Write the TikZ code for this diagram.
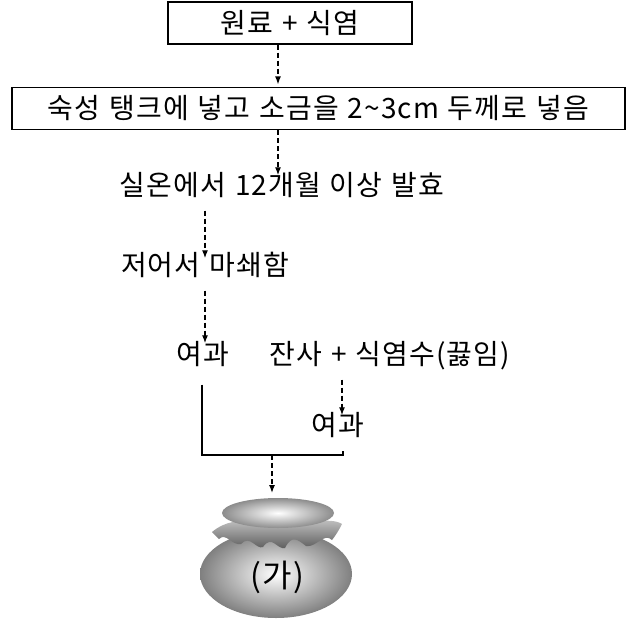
\documentclass[tikz,border=0pt]{standalone}
\usepackage{fontspec}
\setmainfont{Noto Sans CJK KR}[LetterSpace=4, WordSpace=1.2]
\usetikzlibrary{arrows.meta}
\begin{document}
\begin{tikzpicture}[x=1pt,y=-1pt,
  every node/.style={font=\fontsize{28}{32}\selectfont, inner sep=0pt},
  stepbox/.style={draw, line width=1.2pt, minimum height=42pt},
  steptext/.style={text height=20pt, text depth=5pt},
  flow/.style={dashed, dash pattern=on 5pt off 3pt, line width=1.3pt,
    -{Latex[length=8pt,width=6pt]}},
  mergeline/.style={line width=1.1pt}]
\useasboundingbox (0,0) rectangle (631,618);

% process steps
\node[stepbox, minimum width=244pt] (raw) at (290,23) {원료 + 식염};
\node[stepbox, minimum width=613pt] (tank) at (318.5,108.5) {숙성 탱크에 넣고 소금을 2\textasciitilde 3cm 두께로 넣음};
\node[steptext] (ferm) at (282,188) {실온에서 12개월 이상 발효};
\node[steptext] (grind) at (205,268) {저어서 마쇄함};
\node[steptext] (filt1) at (203,357) {여과};
\node[steptext] (resid) at (390,357) {잔사 + 식염수(끓임)};
\node[steptext] (filt2) at (338,428) {여과};

% pot: body, cloth cover, lid
\coordinate (pot) at (276,574);
\shade[inner color=white, outer color=black!50] (pot) ellipse [x radius=76, y radius=44];
\shade[top color=black!25, bottom color=black!65]
  (212,532) .. controls (225,521) and (240,520) .. (250,522)
  -- (310,522) .. controls (325,520) and (336,520) .. (342,524)
  .. controls (339,530) and (336,535) .. (332,540)
  .. controls (324,532) and (316,548) .. (306,546)
  .. controls (298,540) and (292,534) .. (285,548)
  .. controls (277,550) and (272,534) .. (263,547)
  .. controls (256,550) and (250,534) .. (241,544)
  .. controls (232,546) and (226,532) .. (219,539)
  -- cycle;
\shade[inner color=white, outer color=black!45] (278,513) ellipse [x radius=56, y radius=15];
\node[font=\fontsize{32}{36}\selectfont] (jar) at (277,577) {(가)};

% connectors
\coordinate (c1) at (278,0);
\coordinate (c2) at (205,0);
\coordinate (c3) at (342,0);
\coordinate (c5) at (202,0);
\coordinate (merge) at (272,455);
\coordinate (lidtop) at (272,493);
\draw[flow] (raw.south -| c1) -- ([yshift=2.5pt]tank.north -| c1);
\draw[flow] (tank.south -| c1) -- (ferm.north -| c1);
\draw[flow] ([yshift=-10pt]ferm.south -| c2) -- ([yshift=-3pt]grind.north -| c2);
\draw[flow] ([yshift=-10pt]grind.south -| c2) -- ([yshift=1pt]filt1.north -| c2);
\draw[flow] ([yshift=-10pt]resid.south -| c3) -- (filt2.north -| c3);
\draw[mergeline] ([yshift=-15pt]filt1.south -| c5) |- (merge) -| ([yshift=-10pt,xshift=5pt]filt2.south);
\draw[flow] (merge) -- (lidtop);
\end{tikzpicture}
\end{document}
